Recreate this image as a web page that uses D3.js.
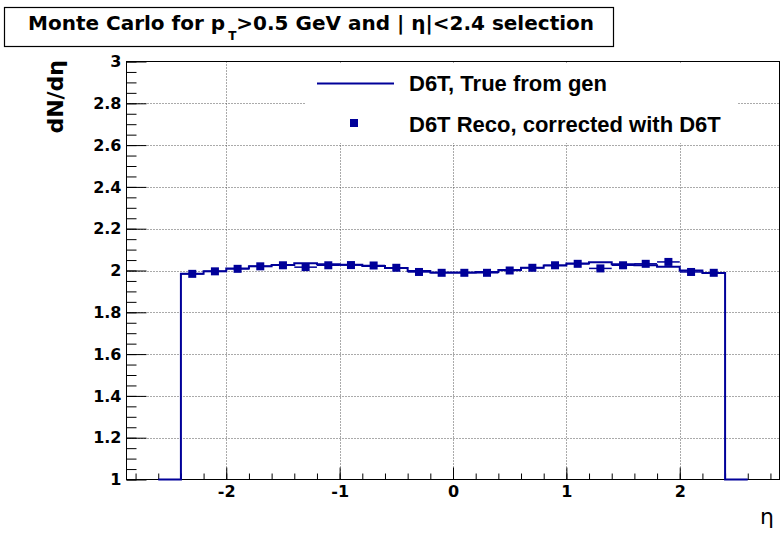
<!DOCTYPE html>
<html>
<head>
<meta charset="utf-8">
<script src="https://cdn.jsdelivr.net/npm/d3@7"></script>
<style>
  html, body { margin: 0; padding: 0; background: #fff; }
  svg { display: block; }
</style>
</head>
<body>
<svg id="chart" width="781" height="540"></svg>
<script>
// ---------- data ----------
const histCenters = [-2.5, -2.3, -2.1, -1.9, -1.7, -1.5, -1.3, -1.1, -0.9, -0.7, -0.5, -0.3, -0.1,
                      0.1, 0.3, 0.5, 0.7, 0.9, 1.1, 1.3, 1.5, 1.7, 1.9, 2.1, 2.3, 2.5];
const trueGen = [0, 1.985, 1.997, 2.010, 2.020, 2.026, 2.035, 2.030, 2.027, 2.022, 2.012, 1.998, 1.990,
                 1.990, 1.993, 2.002, 2.013, 2.024, 2.033, 2.040, 2.030, 2.025, 2.018, 2.000, 1.988, 0];
const recoCenters = [-2.3, -2.1, -1.9, -1.7, -1.5, -1.3, -1.1, -0.9, -0.7, -0.5, -0.3, -0.1,
                      0.1, 0.3, 0.5, 0.7, 0.9, 1.1, 1.3, 1.5, 1.7, 1.9, 2.1, 2.3];
const recoVals = [1.984, 1.996, 2.008, 2.020, 2.025, 2.016, 2.025, 2.026, 2.024, 2.013, 1.993, 1.989,
                  1.989, 1.989, 2.000, 2.013, 2.025, 2.032, 2.010, 2.025, 2.032, 2.041, 1.993, 1.989];
const recoErrs = [0.008, 0.008, 0.008, 0.008, 0.008, 0.008, 0.008, 0.008, 0.008, 0.008, 0.008, 0.008,
                  0.008, 0.008, 0.008, 0.008, 0.008, 0.008, 0.008, 0.008, 0.008, 0.008, 0.008, 0.008];
const binHalfWidth = 0.1;
const xTickValues = [-2, -1, 0, 1, 2];
const xTickLabels = ["-2", "-1", "0", "1", "2"];
const yTickValues = [1, 1.2, 1.4, 1.6, 1.8, 2, 2.2, 2.4, 2.6, 2.8, 3];
const yTickLabels = ["1", "1.2", "1.4", "1.6", "1.8", "2", "2.2", "2.4", "2.6", "2.8", "3"];
const legendLabels = ["D6T, True from gen", "D6T Reco, corrected with D6T"];

// ---------- layout ----------
const svg = d3.select("#chart");
const X0 = 126.5, X1 = 779.5, Y0 = 61.5, Y1 = 479.5;
const x = d3.scaleLinear().domain([-2.88, 2.88]).range([X0, X1]);
const y = d3.scaleLinear().domain([1, 3]).range([Y1, Y0]).clamp(true);
const blue = "#000099";
const axisFont = "'DejaVu Sans', sans-serif";
const textFont = "'Liberation Sans', Arial, sans-serif";

svg.append("rect").attr("width", 781).attr("height", 540).attr("fill", "#fff");

// ---------- grid ----------
const grid = svg.append("g").attr("stroke", "#555").attr("stroke-width", 1).attr("stroke-dasharray", "1,2");
grid.selectAll("line.gx").data(xTickValues).join("line")
  .attr("x1", d => Math.round(x(d)) + 0.5).attr("x2", d => Math.round(x(d)) + 0.5)
  .attr("y1", Y0).attr("y2", Y1);
grid.selectAll("line.gy").data(yTickValues.filter(v => v > 1 && v < 3)).join("line")
  .attr("y1", d => Math.round(y(d)) + 0.5).attr("y2", d => Math.round(y(d)) + 0.5)
  .attr("x1", X0).attr("x2", X1);

// ---------- axes ----------
function styleAxis(g) {
  g.select(".domain").remove();
  g.selectAll(".tick line").attr("stroke", "#000").attr("stroke-width", 1);
  g.selectAll(".tick text").attr("fill", "#000").attr("font-family", axisFont)
    .attr("font-weight", "bold").attr("font-size", 16);
}
const xMinor = svg.append("g").attr("transform", `translate(0,${Y1})`)
  .call(d3.axisBottom(x).tickValues(x.ticks(30)).tickSize(-6).tickFormat(""));
styleAxis(xMinor);
const xMajor = svg.append("g").attr("transform", `translate(0,${Y1})`)
  .call(d3.axisBottom(x).tickValues(xTickValues).tickSize(-12).tickPadding(6)
    .tickFormat((d, i) => xTickLabels[i]));
styleAxis(xMajor);

const yMinor = svg.append("g").attr("transform", `translate(${X0},0)`)
  .call(d3.axisLeft(y).tickValues(y.ticks(40)).tickSize(-10).tickFormat(""));
styleAxis(yMinor);
const yMajor = svg.append("g").attr("transform", `translate(${X0},0)`)
  .call(d3.axisLeft(y).tickValues(yTickValues).tickSize(-20).tickPadding(5)
    .tickFormat((d, i) => yTickLabels[i]));
styleAxis(yMajor);

// frame
svg.append("rect").attr("x", X0).attr("y", Y0).attr("width", X1 - X0).attr("height", Y1 - Y0)
  .attr("fill", "none").attr("stroke", "#000").attr("stroke-width", 1);

// ---------- histogram (true from gen) ----------
const histPts = [];
histCenters.forEach((c, i) => {
  histPts.push([c - binHalfWidth, trueGen[i]]);
  histPts.push([c + binHalfWidth, trueGen[i]]);
});
svg.append("path").datum(histPts)
  .attr("d", d3.line().x(d => x(d[0])).y(d => y(d[1])))
  .attr("fill", "none").attr("stroke", blue).attr("stroke-width", 2);

// ---------- reco points ----------
const reco = recoCenters.map((c, i) => ({ c, v: recoVals[i], e: recoErrs[i] }));
const pts = svg.append("g");
pts.selectAll("line.ex").data(reco).join("line")
  .attr("x1", d => x(d.c - binHalfWidth)).attr("x2", d => x(d.c + binHalfWidth))
  .attr("y1", d => y(d.v)).attr("y2", d => y(d.v))
  .attr("stroke", blue).attr("stroke-width", 1.5);
pts.selectAll("line.ey").data(reco).join("line")
  .attr("x1", d => x(d.c)).attr("x2", d => x(d.c))
  .attr("y1", d => y(d.v - d.e)).attr("y2", d => y(d.v + d.e))
  .attr("stroke", blue).attr("stroke-width", 1.5);
pts.selectAll("rect").data(reco).join("rect")
  .attr("x", d => x(d.c) - 4).attr("y", d => y(d.v) - 4)
  .attr("width", 8).attr("height", 8).attr("fill", blue);

// ---------- legend ----------
const leg = svg.append("g");
leg.append("rect").attr("x", 305).attr("y", 64).attr("width", 432).attr("height", 79).attr("fill", "#fff");
leg.append("line").attr("x1", 317).attr("x2", 394).attr("y1", 83.5).attr("y2", 83.5)
  .attr("stroke", blue).attr("stroke-width", 2);
leg.append("rect").attr("x", 350).attr("y", 119).attr("width", 8).attr("height", 8).attr("fill", blue);
leg.selectAll("text").data(legendLabels).join("text")
  .attr("x", 409).attr("y", (d, i) => i === 0 ? 91 : 132)
  .attr("font-family", textFont).attr("font-weight", "bold").attr("font-size", 22)
  .attr("fill", "#000").text(d => d);

// ---------- title ----------
svg.append("rect").attr("x", 4.5).attr("y", 7.5).attr("width", 609).attr("height", 39)
  .attr("fill", "#fff").attr("stroke", "#000").attr("stroke-width", 1.2);
const title = svg.append("text").attr("x", 28).attr("y", 30)
  .attr("font-family", axisFont).attr("font-weight", "bold").attr("font-size", 20).attr("fill", "#000");
title.append("tspan").text("Monte Carlo for p");
title.append("tspan").attr("font-size", 12).attr("dx", 3).attr("dy", 10).text("T");
title.append("tspan").attr("dy", -10).text(">0.5 GeV and |  η|<2.4 selection");

// ---------- axis titles ----------
svg.append("text").attr("transform", "translate(63,60) rotate(-90)")
  .attr("text-anchor", "end").attr("font-family", axisFont).attr("font-weight", "bold")
  .attr("font-size", 22).attr("fill", "#000").text("dN/dη");
svg.append("text").attr("x", 774).attr("y", 524).attr("text-anchor", "end")
  .attr("font-family", axisFont).attr("font-size", 22).attr("fill", "#000").text("η");
</script>
</body>
</html>
